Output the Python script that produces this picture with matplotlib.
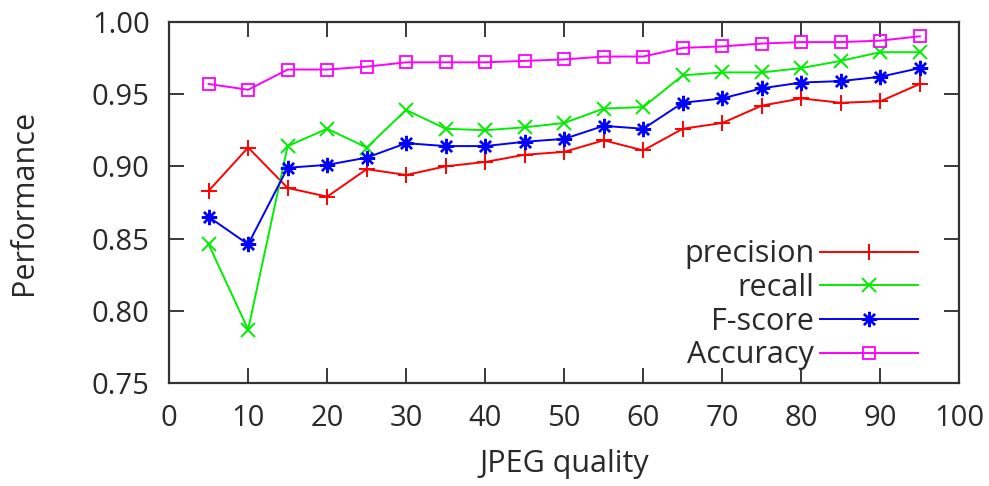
import matplotlib
matplotlib.use("Agg")
from matplotlib import pyplot as plt

# JPEG quality levels
quality = [5, 10, 15, 20, 25, 30, 35, 40, 45, 50, 55, 60, 65, 70, 75, 80, 85, 90, 95]

precision = [0.883, 0.913, 0.885, 0.879, 0.898, 0.894, 0.900, 0.903, 0.908, 0.910,
             0.918, 0.911, 0.926, 0.930, 0.942, 0.947, 0.944, 0.945, 0.957]
recall = [0.846, 0.787, 0.914, 0.926, 0.913, 0.939, 0.926, 0.925, 0.927, 0.930,
          0.940, 0.941, 0.963, 0.965, 0.965, 0.968, 0.973, 0.979, 0.979]
fscore = [0.865, 0.846, 0.899, 0.901, 0.906, 0.916, 0.914, 0.914, 0.917, 0.919,
          0.928, 0.926, 0.944, 0.947, 0.954, 0.958, 0.959, 0.962, 0.968]
accuracy = [0.957, 0.953, 0.967, 0.967, 0.969, 0.972, 0.972, 0.972, 0.973, 0.974,
            0.976, 0.976, 0.982, 0.983, 0.985, 0.986, 0.986, 0.987, 0.990]

plt.rcParams['font.family'] = ['Open Sans', 'DejaVu Sans']
txt = '#2a2a2a'

fig = plt.figure(figsize=(9.89, 4.86), dpi=100)
ax = fig.add_axes([0.171, 0.212, 0.799, 0.743])

ax.plot(quality, precision, color='#ff0000', lw=1.4, marker='+', ms=12, mew=1.4, label='precision')
ax.plot(quality, recall, color='#00ee00', lw=1.4, marker='x', ms=10, mew=1.4, label='recall')
ax.plot(quality, fscore, color='#0000ff', lw=1.4, marker=(8, 2, 0), ms=11, mew=1.7, label='F-score')
ax.plot(quality, accuracy, color='#ff00ff', lw=1.4, marker='s', ms=9, mew=1.3,
        mfc='none', label='Accuracy')

ax.set_xlim(0, 100)
ax.set_ylim(0.75, 1.00)
ax.set_xticks(range(0, 101, 10))
ax.set_yticks([0.75, 0.80, 0.85, 0.90, 0.95, 1.00])
ax.set_yticklabels(['0.75', '0.80', '0.85', '0.90', '0.95', '1.00'])
ax.tick_params(direction='in', top=True, right=True, length=11, width=1.3,
               labelsize=21, colors=txt)
ax.tick_params(axis='x', pad=15)
ax.tick_params(axis='y', pad=14)
for s in ax.spines.values():
    s.set_linewidth(1.6)
    s.set_color('#333333')

ax.set_xlabel('JPEG quality', fontsize=22, color=txt, labelpad=12)
ax.set_ylabel('Performance', fontsize=22, color=txt, labelpad=38)

leg = ax.legend(loc='lower right', frameon=False, markerfirst=False, fontsize=22,
                handlelength=3.2, handletextpad=0.2, labelspacing=0.12, borderpad=0,
                borderaxespad=0, bbox_to_anchor=(0.948, 0.035))
for t in leg.get_texts():
    t.set_color(txt)

fig.savefig('out.png')
